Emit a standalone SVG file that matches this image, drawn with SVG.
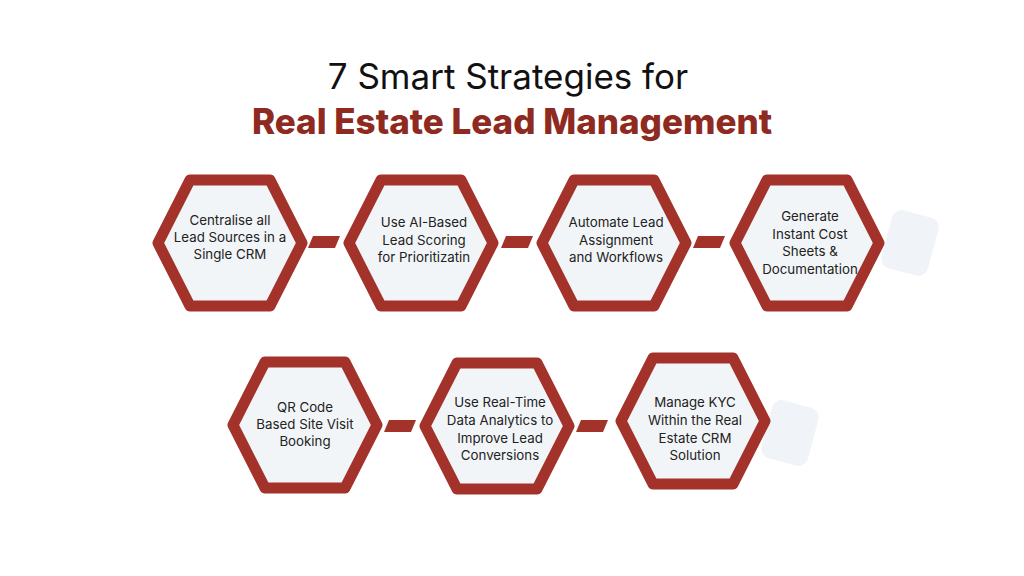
<svg xmlns="http://www.w3.org/2000/svg" xmlns:xlink="http://www.w3.org/1999/xlink" width="1024" height="576" viewBox="0 0 1024 576">
<style>
.hex{fill:#f2f5f8;stroke:#a3322b;stroke-width:11;stroke-linejoin:round}
.lbl{font-family:Inter,"Open Sans",sans-serif;font-size:13.3px;fill:#222;text-anchor:middle}
.conn{fill:#a3322b}
.deco{fill:#f0f3f7}
.t1{font-family:Inter,"Open Sans",sans-serif;font-size:35px;fill:#111;text-anchor:middle}
.t2{font-family:Inter,"Open Sans",sans-serif;font-size:35px;font-weight:800;fill:#8e2a1f;text-anchor:middle}
</style>
<defs>
<path id="hx" d="M -72 0 L -40 -63 L 40 -63 L 72 0 L 40 63 L -40 63 Z"/>
<path id="cn" d="M -11 -6 L 16 -6 L 11 6 L -16 6 Z"/>
</defs>
<rect width="1024" height="576" fill="#ffffff"/>
<g id="title">
<text class="t1" x="508" y="89">7 Smart Strategies for</text>
<text class="t2" x="512" y="134">Real Estate Lead Management</text>
</g>
<g id="decor">
<rect class="deco" x="-24" y="-30" width="48" height="60" rx="10" transform="translate(910 243) rotate(15)"/>
<rect class="deco" x="-24" y="-30" width="48" height="60" rx="10" transform="translate(790 433) rotate(15)"/>
</g>
<g id="connectors">
<use href="#cn" class="conn" x="324" y="242"/>
<use href="#cn" class="conn" x="517" y="242"/>
<use href="#cn" class="conn" x="709" y="242"/>
<use href="#cn" class="conn" x="400" y="426"/>
<use href="#cn" class="conn" x="592" y="426"/>
</g>
<g id="node1">
<use href="#hx" class="hex" x="230" y="243"/>
<text class="lbl" x="230" y="225">Centralise all</text>
<text class="lbl" x="230" y="242">Lead Sources in a</text>
<text class="lbl" x="230" y="259">Single CRM</text>
</g>
<g id="node2">
<use href="#hx" class="hex" x="421" y="243"/>
<text class="lbl" x="424" y="227">Use AI-Based</text>
<text class="lbl" x="424" y="244.5">Lead Scoring</text>
<text class="lbl" x="424" y="262">for Prioritizatin</text>
</g>
<g id="node3">
<use href="#hx" class="hex" x="614" y="243"/>
<text class="lbl" x="616" y="227">Automate Lead</text>
<text class="lbl" x="616" y="244.5">Assignment</text>
<text class="lbl" x="616" y="262">and Workflows</text>
</g>
<g id="node4">
<use href="#hx" class="hex" x="807" y="243"/>
<text class="lbl" x="810" y="221">Generate</text>
<text class="lbl" x="810" y="238.5">Instant Cost</text>
<text class="lbl" x="810" y="256">Sheets &amp;</text>
<text class="lbl" x="810" y="273.5">Documentation</text>
</g>
<g id="node5">
<use href="#hx" class="hex" x="305" y="425"/>
<text class="lbl" x="305" y="412">QR Code</text>
<text class="lbl" x="305" y="429">Based Site Visit</text>
<text class="lbl" x="305" y="446">Booking</text>
</g>
<g id="node6">
<use href="#hx" class="hex" x="497" y="426"/>
<text class="lbl" x="500" y="407">Use Real-Time</text>
<text class="lbl" x="500" y="425">Data Analytics to</text>
<text class="lbl" x="500" y="443">Improve Lead</text>
<text class="lbl" x="500" y="460">Conversions</text>
</g>
<g id="node7">
<use href="#hx" class="hex" x="693" y="421"/>
<text class="lbl" x="695" y="407">Manage KYC</text>
<text class="lbl" x="695" y="425">Within the Real</text>
<text class="lbl" x="695" y="443">Estate CRM</text>
<text class="lbl" x="695" y="460">Solution</text>
</g>
</svg>
